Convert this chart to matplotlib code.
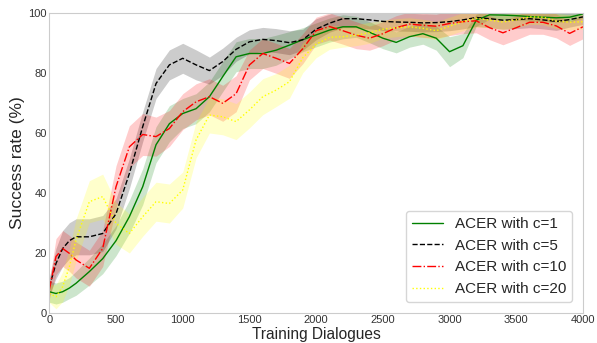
import numpy as np
import matplotlib
matplotlib.use("Agg")
import matplotlib.pyplot as plt
import seaborn as sns

# training dialogues
steps = [0, 50, 100, 150, 200] + list(range(300, 4001, 100))

c1 = [7, 6.4, 7, 8.2, 9.8, 13.7, 18, 24, 32, 42, 56, 63, 66.4, 68, 72, 78.7, 85.3, 86.4, 86.4,
      87.5, 89.2, 91, 92.6, 94.2, 95.3, 95.3, 93.5, 91.5, 90.1, 92, 93, 91.5, 87, 89, 97.5, 99.3,
      99.2, 99, 98.7, 98.5, 98.3, 98.5, 99.6]
c1_std = [3.5, 3.5, 3.5, 3.5, 4, 4.5, 5, 5, 5.5, 6, 6, 6, 5, 5, 5, 5, 5, 5, 5,
          5, 4.5, 4, 4, 4, 4, 3.5, 3.5, 3.5, 3.5, 3.5, 3.5, 4, 5, 4, 2, 1.5,
          1.5, 1.5, 1.5, 1.5, 1.5, 1.5, 1.5]

c5 = [8.7, 16.4, 21.4, 24, 25.3, 25.3, 26.4, 33, 46.4, 62, 76.4, 82.6, 84.8, 82.6, 80.7, 83.7,
      87.8, 90.3, 91.1, 90.7, 90, 91, 94.5, 96.5, 98, 98, 97.6, 97.1, 96.9, 96.8, 96.6, 96.7, 97,
      97.6, 98.4, 98, 97.5, 97.7, 98, 97.6, 97.1, 97.7, 98.6]
c5_std = [3, 5, 6, 6, 6, 6, 6, 5, 5, 5, 5, 5, 5, 5, 4.5, 4.5,
          4, 4, 4, 4, 4, 3.5, 3.5, 3, 3, 3, 3, 3, 3, 3, 3, 3, 3,
          3, 3, 3, 3, 3, 3, 3, 3, 2.5, 2.5]

c10 = [7.6, 18.7, 21.4, 19.8, 17.6, 14.8, 21.4, 42, 55.3, 59.4, 58.7, 61.4, 67, 70.3, 72, 69.8,
       73, 82.6, 86.4, 84.8, 83.1, 88, 94, 95.4, 94, 92.5, 91.5, 93, 95, 96.2, 95.8, 95.5, 96.4,
       97, 97.3, 95, 93.3, 95, 96.8, 96.8, 95.6, 93.1, 95.3]
c10_std = [3, 6, 6, 6, 6, 6, 6, 7, 7, 7, 6.5, 6, 6, 6, 6, 6,
           6, 5, 5, 5, 5, 5, 4.5, 4.5, 4.5, 4.5, 4, 4, 4, 4, 4, 4, 4,
           4, 4, 4, 4, 4, 4, 4, 4, 4, 4]

c20 = [6.4, 5.3, 8.7, 15.3, 24.2, 37, 38.7, 29.8, 26.4, 32, 37, 36.4, 40.9, 57.6, 65.9, 65.3,
       63.7, 67.6, 72, 74.2, 77, 85, 89.5, 91.8, 92, 92.5, 93.3, 94.5, 95, 95.3, 94.8, 94, 95.5,
       97, 98.2, 97.5, 96.9, 97.6, 98.6, 98.5, 97.2, 96.8, 97]
c20_std = [3, 4, 5, 6, 7, 7, 7.5, 7, 6.5, 6.5, 6.5, 6.5, 6, 6, 6, 6,
           6, 6, 6, 5.5, 5.5, 5, 4.5, 4, 3.5, 3.5, 3.5, 3, 3, 3, 3, 3, 3,
           3, 3, 2.5, 2.5, 2.5, 2.5, 2.5, 2.5, 2.5, 2.5]

labels = ["ACER with c=1", "ACER with c=5", "ACER with c=10", "ACER with c=20"]

sns.set_style("white")
plt.rcParams["font.family"] = ["Liberation Sans", "DejaVu Sans"]

fig = plt.figure(figsize=(5.97, 3.43), dpi=100)
ax = fig.add_axes([0.0826, 0.0883, 0.8939, 0.8747])

x = np.array(steps)
series = [
    (c1, c1_std, "green", "-"),
    (c5, c5_std, "black", "--"),
    (c10, c10_std, "red", "-."),
    (c20, c20_std, "yellow", ":"),
]
for (m, s, col, ls), lab in zip(series, labels):
    m = np.array(m)
    s = np.array(s)
    ax.fill_between(x, m - s, m + s, color=col, alpha=0.2, linewidth=0)
    ax.plot(x, m, color=col, linestyle=ls, linewidth=1.0, label=lab)

ax.set_xlim(0, 4000)
ax.set_ylim(0, 100)
ax.set_xticks(range(0, 4001, 500))
ax.set_yticks(range(0, 101, 20))
ax.tick_params(labelsize=8, colors="#333333", length=0, pad=2)
ax.set_xlabel("Training Dialogues", fontsize=11.2, color="#262626", labelpad=1)
ax.set_ylabel("Success rate (%)", fontsize=12.5, color="#262626", labelpad=2)
for sp in ax.spines.values():
    sp.set_color("#cccccc")

ax.legend(loc="lower right", fontsize=11, frameon=True, edgecolor="#cccccc",
          handlelength=2, borderaxespad=0.7)

plt.savefig("out.png", dpi=100)
